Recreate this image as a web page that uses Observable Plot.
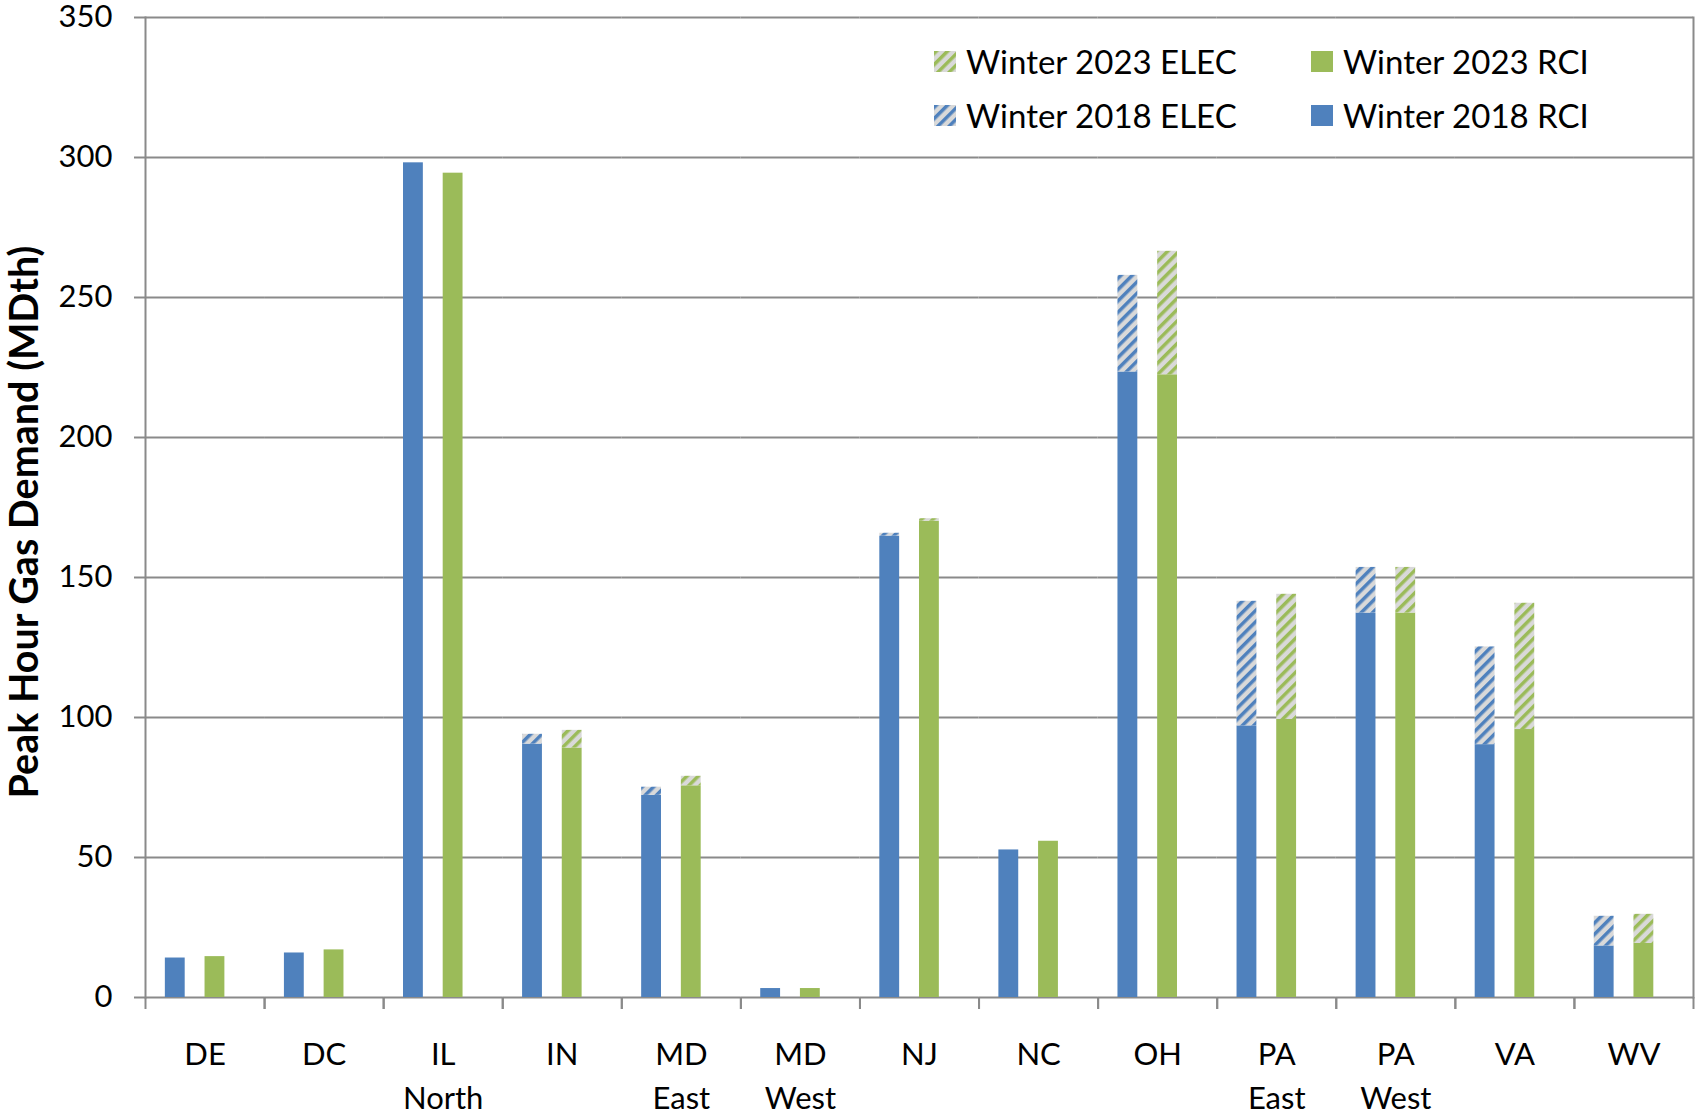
<!DOCTYPE html>
<html><head><meta charset="utf-8">
<script src="https://cdn.jsdelivr.net/npm/d3@7"></script>
<script src="https://cdn.jsdelivr.net/npm/@observablehq/plot@0.6"></script>
<style>
body{margin:0;background:#fff;font-family:Lato, "Open Sans", sans-serif;}
#wrap{position:relative;width:1695px;height:1117px;overflow:hidden;}
#ytitle{position:absolute;left:23px;top:522px;transform:translate(-50%,-50%) rotate(-90deg);font-weight:bold;font-size:39.5px;white-space:nowrap;color:#000;line-height:1;}
.item{position:absolute;display:flex;align-items:center;height:40px;font-size:33px;line-height:40px;white-space:nowrap;color:#000;}
.sw{width:22px;height:21px;margin-right:10px;flex:none;display:block;}
.sw svg{display:block;}
</style></head>
<body>
<svg width="0" height="0" style="position:absolute">
<defs>
<pattern id="hatchBlue" patternUnits="userSpaceOnUse" width="8" height="8" patternTransform="rotate(45)">
<rect width="8" height="8" fill="#d9d9d9"/><rect width="3.5" height="8" fill="#4f81bd"/>
</pattern>
<pattern id="hatchGreen" patternUnits="userSpaceOnUse" width="8" height="8" patternTransform="rotate(45)">
<rect width="8" height="8" fill="#d9d9d9"/><rect width="3.5" height="8" fill="#9bbb59"/>
</pattern>
</defs>
</svg>
<div id="wrap"></div>
<script>
// ---- data ----
const regions = ["DE","DC","IL North","IN","MD East","MD West","NJ","NC","OH","PA East","PA West","VA","WV"];
const rci2018  = [14.1, 15.9, 298.1, 90.5, 72.2, 3.2, 164.8, 52.7, 223.4, 97.0, 137.3, 90.3, 18.4];
const elec2018 = [0, 0, 0, 3.5, 2.9, 0, 1.0, 0, 34.5, 44.5, 16.3, 34.9, 10.6];
const rci2023  = [14.6, 17.0, 294.4, 89.1, 75.6, 3.2, 170.1, 55.8, 222.4, 99.3, 137.3, 95.7, 19.3];
const elec2023 = [0, 0, 0, 6.3, 3.4, 0, 0.9, 0, 44.1, 44.7, 16.3, 45.1, 10.4];
const yTicks = [0, 50, 100, 150, 200, 250, 300, 350];
const seriesKeys = ["Winter 2018 RCI", "Winter 2018 ELEC", "Winter 2023 RCI", "Winter 2023 ELEC"];
const legendOrder = ["Winter 2023 ELEC", "Winter 2023 RCI", "Winter 2018 ELEC", "Winter 2018 RCI"];
const yTitle = "Peak Hour Gas Demand (MDth)";

// ---- layout / styles ----
const W = 1695, H = 1117, ML = 145, MR = 2, MT = 17, MB = 120;
const band = (W - ML - MR) / regions.length;
const slots = ["2018", "gapA", "2023", "gapB"];
const fills = ["#4f81bd", "url(#hatchBlue)", "#9bbb59", "url(#hatchGreen)"];
const gridColor = "#8a8a8a";

const table = regions.flatMap((r, i) => [
  {region: r, slot: "2018", key: seriesKeys[0], value: rci2018[i]},
  {region: r, slot: "2018", key: seriesKeys[1], value: elec2018[i]},
  {region: r, slot: "2023", key: seriesKeys[2], value: rci2023[i]},
  {region: r, slot: "2023", key: seriesKeys[3], value: elec2023[i]}
]);

const chart = Plot.plot({
  width: W, height: H,
  marginLeft: ML, marginRight: MR, marginTop: MT, marginBottom: MB,
  style: {fontFamily: "Lato, 'Open Sans', sans-serif", background: "white", color: "black", overflow: "visible"},
  fx: {domain: regions, padding: 0, round: false, label: null},
  x: {domain: slots, paddingInner: 0, paddingOuter: 1, round: false, axis: null},
  y: {domain: [0, 350], label: null},
  color: {domain: seriesKeys, range: fills},
  marks: [
    Plot.gridY(yTicks, {stroke: gridColor, strokeOpacity: 1, strokeWidth: 2}),
    Plot.barY(table, {fx: "region", x: "slot", y: "value", fill: "key"}),
    Plot.frame({anchor: "left", facetAnchor: "left", stroke: gridColor, strokeWidth: 2}),
    Plot.frame({anchor: "right", facetAnchor: "right", stroke: gridColor, strokeWidth: 2}),
    Plot.axisY(yTicks, {tickSize: 11, tickPadding: 22, fontSize: 31, stroke: gridColor, strokeWidth: 2, label: null, tickFormat: d => String(d)}),
    Plot.axisFx({anchor: "bottom", tickSize: 12, tickFormat: () => "", dx: -band / 2, stroke: gridColor, strokeWidth: 2, label: null}),
    Plot.axisFx([regions[regions.length - 1]], {anchor: "bottom", tickSize: 12, tickFormat: () => "", dx: band / 2, stroke: gridColor, strokeWidth: 2, label: null}),
    Plot.axisFx({anchor: "bottom", tickSize: 0, tickPadding: 37, fontSize: 31, lineHeight: 1.4, tickFormat: d => d.replace(" ", "\n"), label: null})
  ]
});

const wrap = document.getElementById("wrap");
wrap.appendChild(chart);

const t = document.createElement("div");
t.id = "ytitle"; t.textContent = yTitle;
wrap.appendChild(t);

// legend (inside plot area, top right)
const legPos = [[934, 61], [1311, 61], [934, 115], [1311, 115]];
legendOrder.forEach((k, i) => {
  const it = document.createElement("div");
  it.className = "item";
  it.style.left = legPos[i][0] + "px";
  it.style.top = (legPos[i][1] - 20) + "px";
  const sw = document.createElement("div");
  sw.className = "sw";
  const f = fills[seriesKeys.indexOf(k)];
  sw.innerHTML = `<svg width="22" height="21"><rect width="22" height="21" fill="${f}"/></svg>`;
  it.appendChild(sw);
  const tx = document.createElement("span");
  tx.textContent = k;
  it.appendChild(tx);
  wrap.appendChild(it);
});
</script>
</body></html>
